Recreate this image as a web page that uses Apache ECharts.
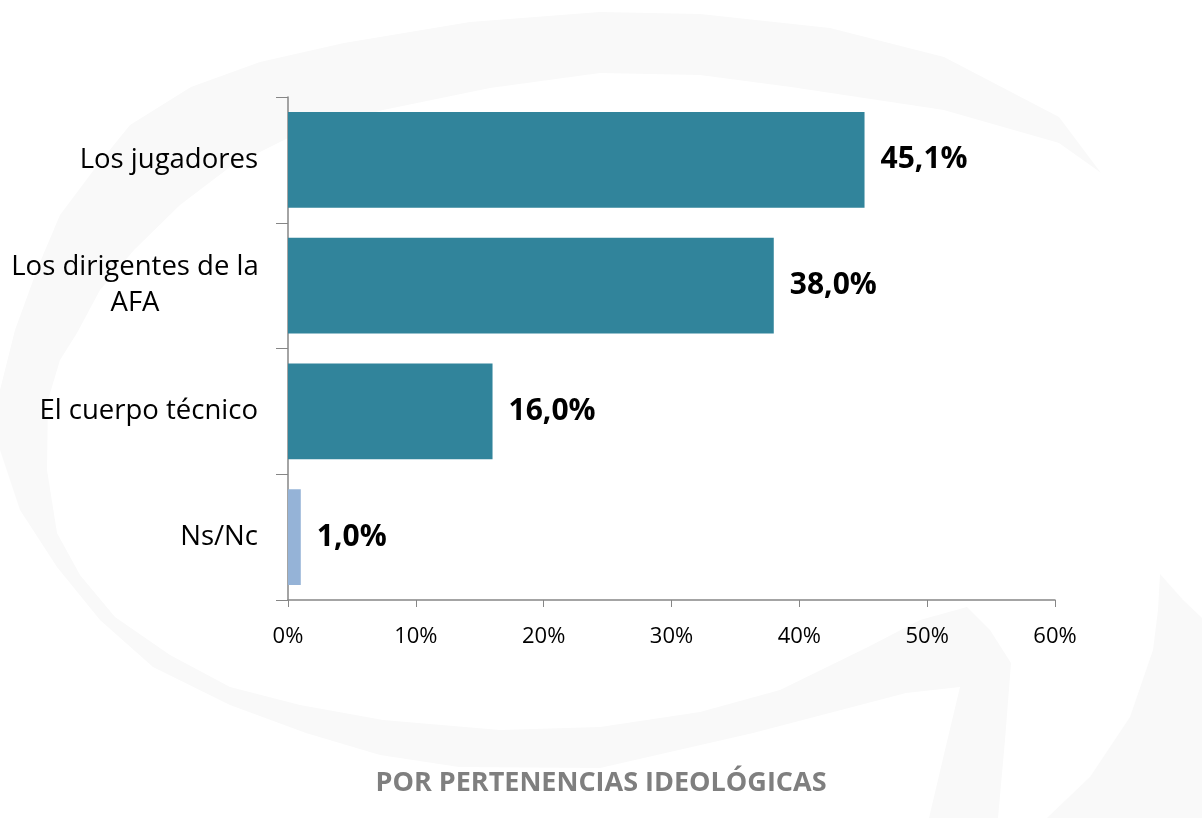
<!DOCTYPE html>
<html>

<head>
    <meta charset="utf8">
    <script src="https://cdn.jsdelivr.net/npm/echarts@6/dist/echarts.min.js"></script>
    <style>
        html, body { margin: 0; padding: 0; background: #fff; }
        #main { width: 1202px; height: 818px; }
    </style>
</head>

<body>
    <div id="main"></div>
    <script type="text/javascript">
        // valores
        var categorias = ['Los jugadores', 'Los dirigentes de la\nAFA', 'El cuerpo técnico', 'Ns/Nc'];
        var valores = [45.1, 38.0, 16.0, 1.0];
        var colores = ['#31849B', '#31849B', '#31849B', '#95B3D7'];
        var ticksX = [0, 10, 20, 30, 40, 50, 60];
        var titulo = 'POR PERTENENCIAS IDEOLÓGICAS';

        var fuente = '"Open Sans", "Noto Sans", sans-serif';

        var chart = echarts.init(document.getElementById('main'));

        var datos = [];
        for (var i = 0; i < valores.length; i++) {
            datos.push({ value: valores[i], itemStyle: { color: colores[i] } });
        }

        // marca de agua de fondo (logo gris muy claro)
        var gris = '#f9f9f9';
        var arco = [
            [1101, 173], [1059, 117], [944, 57], [830, 28], [700, 14], [600, 12], [470, 22], [344, 43],
            [260, 62], [191, 87], [130, 125], [96, 167], [60, 215], [38, 267], [15, 330], [0, 390],
            [-3, 430], [0, 450], [20, 510], [57, 567], [100, 620], [153, 667], [230, 705], [306, 733],
            [380, 755], [459, 767], [600, 768], [753, 733], [906, 693], [960, 687], [945, 750],
            [929, 818], [998, 818], [1005, 740], [1011, 663], [990, 630], [967, 607], [920, 620],
            [868, 647], [780, 690], [700, 712], [600, 727], [500, 730], [383, 720], [300, 705],
            [230, 687], [170, 655], [115, 617], [80, 575], [57, 533], [47, 470], [48, 400],
            [60, 360], [77, 333], [100, 290], [134, 250], [180, 205], [230, 167], [300, 132],
            [383, 110], [490, 88], [600, 73], [700, 75], [791, 87], [944, 110], [1059, 143], [1097, 170]
        ];
        var gancho = [[1160, 574], [1183, 600], [1202, 618], [1202, 818], [1047, 818], [1090, 777],
            [1130, 717], [1153, 650], [1158, 610]];

        var option = {
            backgroundColor: '#ffffff',
            animation: false,
            graphic: [
                { type: 'polygon', z: -10, silent: true, shape: { points: arco }, style: { fill: gris } },
                { type: 'polygon', z: -10, silent: true, shape: { points: gancho }, style: { fill: gris } },
                {
                    type: 'text', left: 'center', top: 770,
                    style: { text: titulo, fill: '#7f7f7f', font: 'bold 27px ' + fuente }
                }
            ],
            grid: { left: 288, right: 147, top: 97, bottom: 218, containLabel: false },
            xAxis: {
                type: 'value', min: 0, max: 60, interval: 10,
                axisLine: { show: true, lineStyle: { color: '#868686', width: 1.5 } },
                axisTick: { show: true, length: 7, lineStyle: { color: '#868686' } },
                splitLine: { show: false },
                axisLabel: {
                    formatter: function (v) { return ticksX.indexOf(v) >= 0 ? v + '%' : ''; },
                    color: '#000', fontSize: 22, fontFamily: fuente, margin: 26
                }
            },
            yAxis: {
                type: 'category', data: categorias, inverse: true,
                axisLine: { show: true, lineStyle: { color: '#868686', width: 1.5 } },
                axisTick: { show: true, length: 12, lineStyle: { color: '#868686' } },
                axisLabel: {
                    color: '#000', fontSize: 27.5, fontFamily: fuente, margin: 30, lineHeight: 36,
                    formatter: function (v) {
                        if (v.indexOf('\n') >= 0) {
                            return v.split('\n').map(function (s) { return '{c|' + s + '}'; }).join('\n');
                        }
                        return v;
                    },
                    rich: {
                        c: { width: 246, align: 'center', fontSize: 27.5, fontFamily: fuente, color: '#000', lineHeight: 36 }
                    }
                }
            },
            series: [{
                type: 'bar',
                data: datos,
                barCategoryGap: '24%',
                label: {
                    show: true, position: 'right', distance: 16,
                    formatter: function (p) { return p.value.toFixed(1).replace('.', ',') + '%'; },
                    color: '#000', fontSize: 30, fontWeight: 'bold', fontFamily: fuente
                }
            }]
        };
        chart.setOption(option);
    </script>
</body>

</html>
